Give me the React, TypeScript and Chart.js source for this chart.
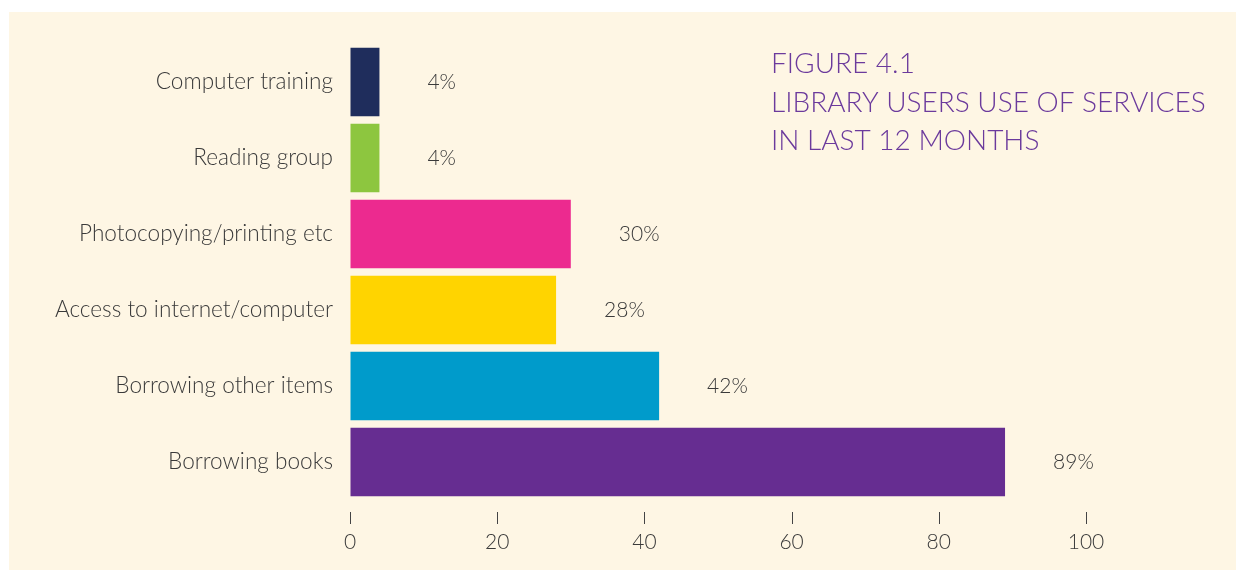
import React, { useEffect, useRef } from "react";
import { Chart, registerables } from "chart.js";

Chart.register(...registerables);

const categories = [
  "Computer training",
  "Reading group",
  "Photocopying/printing etc",
  "Access to internet/computer",
  "Borrowing other items",
  "Borrowing books",
];
const values = [4, 4, 30, 28, 42, 89];
const barColors = ["#1f2d5c", "#8dc63f", "#ec2a8f", "#ffd400", "#009bcb", "#662d91"];
const titleLines = ["FIGURE 4.1", "LIBRARY USERS USE OF SERVICES", "IN LAST 12 MONTHS"];
const xTicks = [0, 20, 40, 60, 80, 100];

const FONT = "Lato, 'Open Sans', sans-serif";
const TEXT = "#3a3a3a";

export default function App() {
  const ref = useRef<HTMLCanvasElement | null>(null);

  useEffect(() => {
    if (!ref.current) return;
    const overlay = {
      id: "overlay",
      afterDatasetsDraw(chart: any) {
        const ctx = chart.ctx;
        const meta = chart.getDatasetMeta(0);
        ctx.save();
        ctx.font = `300 21px ${FONT}`;
        ctx.fillStyle = TEXT;
        ctx.textAlign = "left";
        ctx.textBaseline = "middle";
        meta.data.forEach((bar: any, i: number) => {
          ctx.fillText(values[i] + "%", bar.x + 48, bar.y);
        });
        // tick marks
        const xs = chart.scales.x;
        const b = chart.chartArea.bottom;
        ctx.strokeStyle = "#444";
        ctx.lineWidth = 1;
        xTicks.forEach((t) => {
          const px = Math.round(xs.getPixelForValue(t)) + 0.5;
          ctx.beginPath();
          ctx.moveTo(px, b + 12);
          ctx.lineTo(px, b + 24);
          ctx.stroke();
        });
        // title
        ctx.font = `300 28px ${FONT}`;
        ctx.fillStyle = "#6b3a9c";
        ctx.textBaseline = "alphabetic";
        const baselines = [73, 112, 150];
        titleLines.forEach((l, i) => ctx.fillText(l, 771, baselines[i]));
        ctx.restore();
      },
    };

    const chart = new Chart(ref.current, {
      type: "bar",
      data: {
        labels: categories,
        datasets: [
          {
            data: values,
            backgroundColor: barColors,
            borderWidth: 0,
            categoryPercentage: 1,
            barPercentage: 0.9,
          },
        ],
      },
      options: {
        indexAxis: "y",
        animation: false,
        responsive: false,
        maintainAspectRatio: false,
        layout: { padding: { top: 44, right: 150, bottom: 0, left: 0 } },
        plugins: { legend: { display: false }, tooltip: { enabled: false }, title: { display: false } },
        scales: {
          x: {
            min: 0,
            max: 100,
            afterBuildTicks: (s: any) => {
              s.ticks = xTicks.map((v) => ({ value: v }));
            },
            afterFit: (s: any) => {
              s.height = 70;
            },
            grid: { display: true, drawOnChartArea: false, drawTicks: false },
            border: { display: false },
            ticks: {
              padding: 30,
              color: TEXT,
              font: { family: FONT, size: 21, weight: "300" as any },
              maxRotation: 0,
            },
          },
          y: {
            afterFit: (s: any) => {
              s.width = 350;
            },
            grid: { display: false },
            border: { display: false },
            ticks: {
              padding: 9,
              color: TEXT,
              font: { family: FONT, size: 22.6, weight: "300" as any },
            },
          },
        },
      },
      plugins: [overlay],
    });
    return () => chart.destroy();
  }, []);

  return (
    <div style={{ position: "fixed", left: 0, top: 0, width: 1236, height: 570, background: "#ffffff" }}>
      <div style={{ position: "absolute", left: 9, top: 12, width: 1227, height: 558, background: "#fef6e4" }} />
      <canvas ref={ref} width={1236} height={570} style={{ position: "absolute", left: 0, top: 0, width: 1236, height: 570 }} />
    </div>
  );
}
